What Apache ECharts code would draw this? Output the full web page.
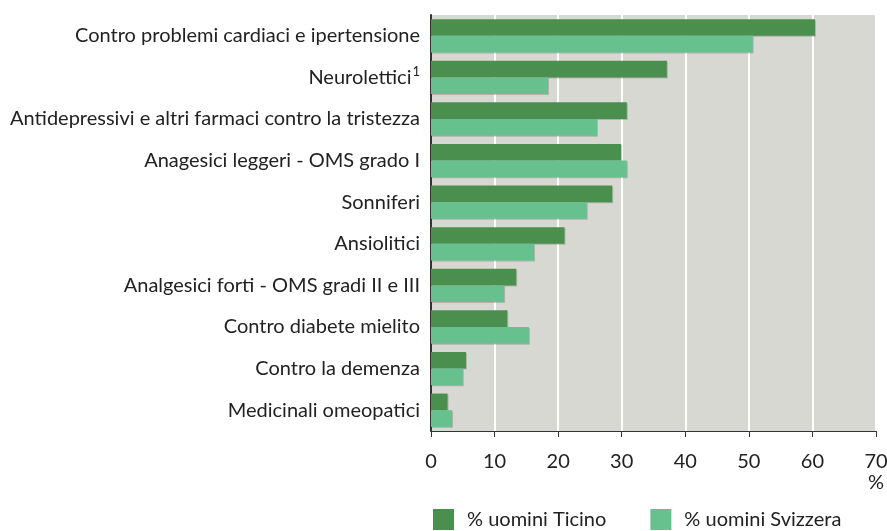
<!DOCTYPE html>
<html>
<head>
	<meta charset="UTF-8">
	<title>Farmaci</title>
	<script type="text/javascript" src="https://cdn.jsdelivr.net/npm/echarts@6/dist/echarts.min.js"></script>
	<style type="text/css">
		html, body { margin: 0; padding: 0; background: #ffffff; }
		#graph { width: 887px; height: 531px; }
	</style>
</head>
<body>
	<div id="graph"></div>
	<script>
		// categorie (dall'alto verso il basso)
		var categorie = [
			'Contro problemi cardiaci e ipertensione',
			'Neurolettici',
			'Antidepressivi e altri farmaci contro la tristezza',
			'Anagesici leggeri - OMS grado I',
			'Sonniferi',
			'Ansiolitici',
			'Analgesici forti - OMS gradi II e III',
			'Contro diabete mielito',
			'Contro la demenza',
			'Medicinali omeopatici'
		];
		var ticino = [60.4, 37.1, 30.8, 29.9, 28.5, 21.0, 13.4, 12.0, 5.5, 2.6];
		var svizzera = [50.6, 18.4, 26.1, 30.8, 24.5, 16.2, 11.5, 15.4, 5.0, 3.3];
		var nomiSerie = ['% uomini Ticino', '% uomini Svizzera'];

		var font = 'Lato';
		var chart = echarts.init(document.getElementById('graph'), null, { renderer: 'canvas' });
		chart.setOption({
			animation: false,
			textStyle: { fontFamily: font },
			grid: {
				left: 431, right: 11, top: 15, bottom: 100,
				outerBoundsMode: 'none',
				show: true, backgroundColor: '#d8d8d3', borderWidth: 0
			},
			legend: {
				left: 433, bottom: 1, padding: 0,
				itemWidth: 21, itemHeight: 21, itemGap: 44,
				icon: 'rect',
				textStyle: { fontSize: 20, color: '#222', fontFamily: font, padding: [0, 0, 0, 8] },
				data: nomiSerie
			},
			xAxis: {
				type: 'value', min: 0, max: 70, interval: 10,
				axisLine: { show: true, lineStyle: { color: '#333', width: 1 } },
				axisTick: { show: true, length: 6, lineStyle: { color: '#333' } },
				splitLine: { show: true, lineStyle: { color: '#ffffff', width: 2 } },
				axisLabel: { fontSize: 20, color: '#222', margin: 21, fontFamily: font }
			},
			yAxis: {
				type: 'category', inverse: true, data: categorie,
				axisLine: { show: true, lineStyle: { color: '#333', width: 2 } },
				axisTick: { show: false },
				axisLabel: {
					fontSize: 20, color: '#222', margin: 11, fontFamily: font,
					formatter: function (v) {
						if (v === 'Neurolettici') return v + '{sup|1}';
						return v;
					},
					rich: {
						sup: { fontSize: 13, color: '#222', fontFamily: font, verticalAlign: 'top', padding: [0, 0, 11, 1] }
					}
				}
			},
			graphic: [{
				type: 'text', right: 3, top: 473,
				style: { text: '%', fontSize: 20, fill: '#222', fontFamily: font }
			}],
			series: [{
				name: nomiSerie[0], type: 'bar', data: ticino,
				barGap: '0%', barCategoryGap: '20%',
				itemStyle: { color: '#4a8f4e', shadowColor: 'rgba(0,0,0,0.18)', shadowOffsetX: 1, shadowOffsetY: 1 }
			}, {
				name: nomiSerie[1], type: 'bar', data: svizzera,
				barGap: '0%', barCategoryGap: '20%',
				itemStyle: { color: '#66c18e', shadowColor: 'rgba(0,0,0,0.18)', shadowOffsetX: 1, shadowOffsetY: 1 }
			}]
		});
	</script>
</body>
</html>
